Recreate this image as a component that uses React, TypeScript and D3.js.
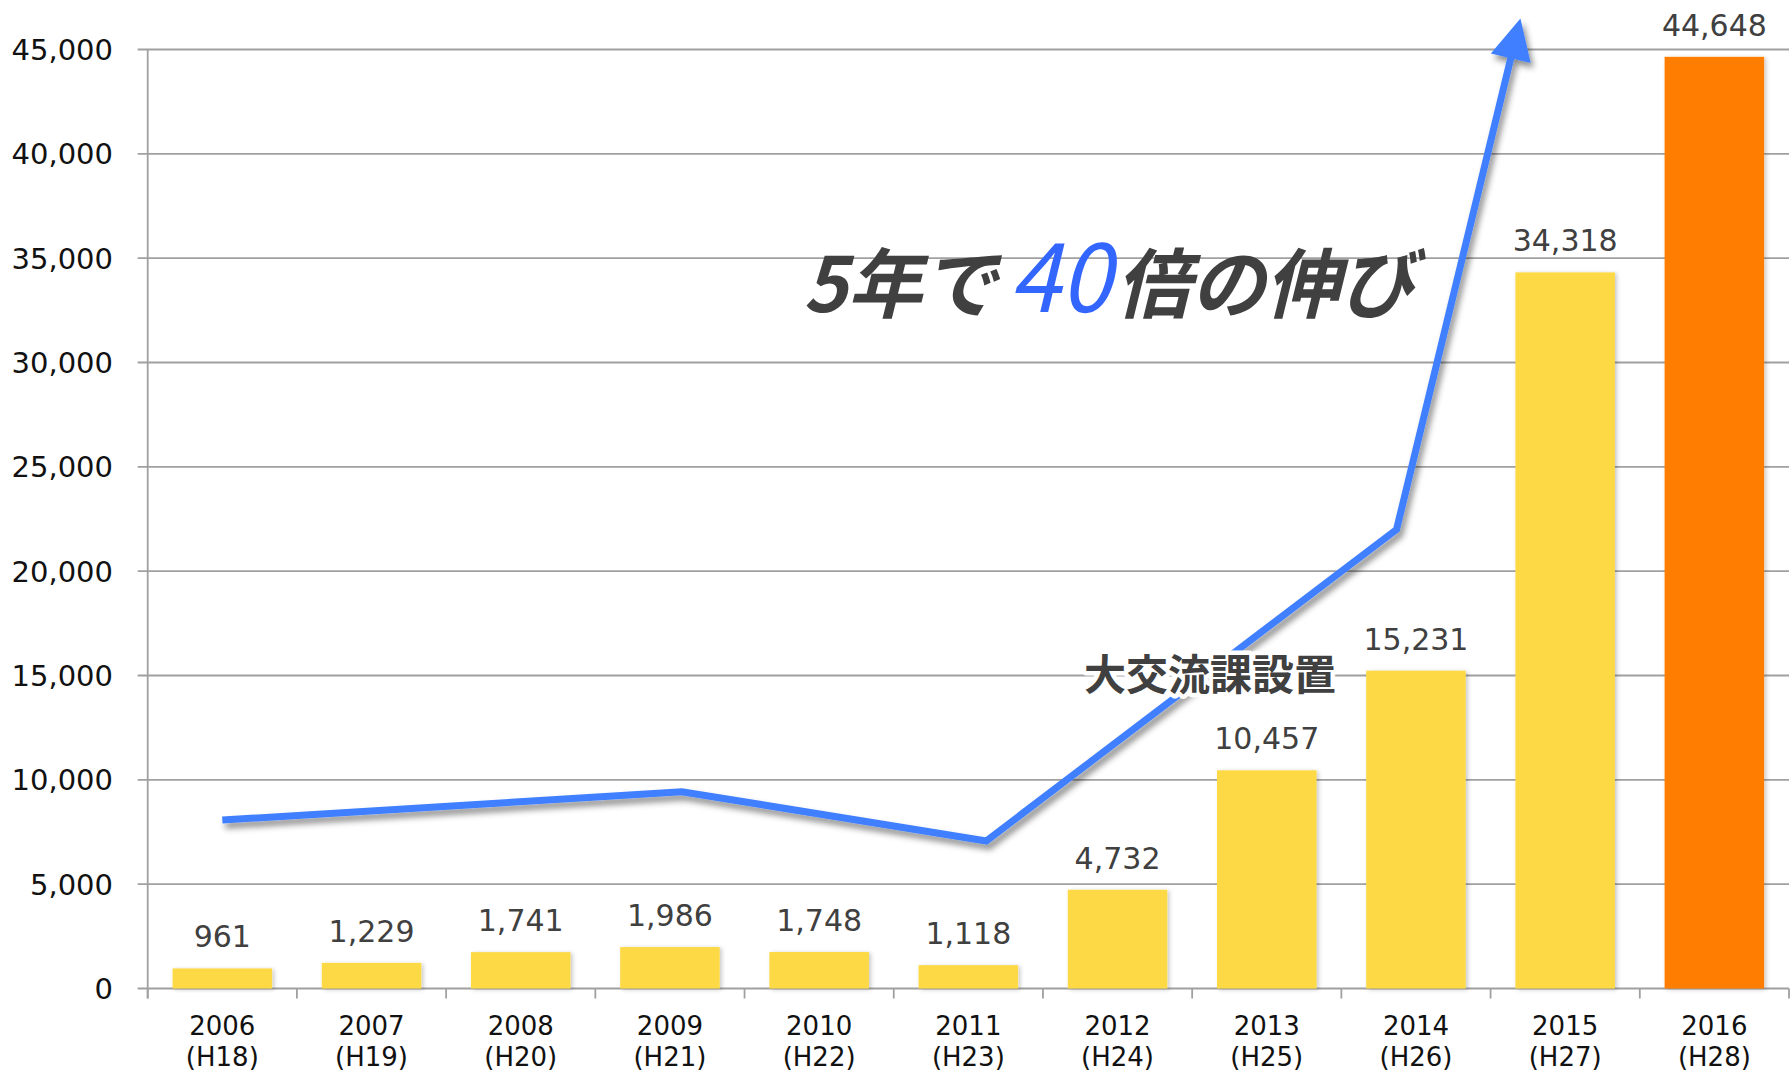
import React from 'react';
import * as d3 from 'd3';

// ---- data ----
const years = ['2006', '2007', '2008', '2009', '2010', '2011', '2012', '2013', '2014', '2015', '2016'];
const eras = ['(H18)', '(H19)', '(H20)', '(H21)', '(H22)', '(H23)', '(H24)', '(H25)', '(H26)', '(H27)', '(H28)'];
const visitors = [961, 1229, 1741, 1986, 1748, 1118, 4732, 10457, 15231, 34318, 44648];
const yTicks = [0, 5000, 10000, 15000, 20000, 25000, 30000, 35000, 40000, 45000];
// trend arrow vertices: position in category units (0 = first category centre) and value
const trendPos = [0, 3.08, 5.12, 7.87, 8.7];
const trendVal = [8070, 9430, 7070, 22000, 46490];

const W = 1791;
const H = 1073;
const left = 147.7;
const right = 1789;
const top = 49.5;
const bottom = 988.5;

const FONT = "'DejaVu Sans', Verdana, sans-serif";
const CJK = "'Noto Sans CJK JP', 'Noto Sans CJK SC', sans-serif";

export default function App() {
  const x = d3.scaleBand<string>().domain(years).range([left, right]).paddingInner(0.333).paddingOuter(0.1667);
  const y = d3.scaleLinear().domain([0, 45000]).range([bottom, top]);
  const pos = d3.scaleLinear().domain([-0.5, years.length - 0.5]).range([left, right]);
  const fmt = d3.format(',');

  const pts: [number, number][] = trendPos.map((p, i) => [pos(p), y(trendVal[i])]);
  // arrow head
  const tip = pts[pts.length - 1];
  const prev = pts[pts.length - 2];
  const dx = tip[0] - prev[0];
  const dy = tip[1] - prev[1];
  const len = Math.hypot(dx, dy);
  const ux = dx / len;
  const uy = dy / len;
  const headLen = 41;
  const headHalf = 20.5;
  const base: [number, number] = [tip[0] - ux * headLen, tip[1] - uy * headLen];
  const linePts = [...pts.slice(0, -1), [base[0] + ux * 2, base[1] + uy * 2] as [number, number]];
  const headPath = `M${tip[0]},${tip[1]} L${base[0] - uy * headHalf},${base[1] + ux * headHalf} L${base[0] + uy * headHalf},${base[1] - ux * headHalf} Z`;
  const line = d3.line();

  const boundaries = d3.range(years.length + 1).map((i) => left + (i * (right - left)) / years.length);

  return (
    <svg width={W} height={H} style={{ position: 'absolute', left: 0, top: 0, display: 'block', background: '#fff' }}>
      <defs>
        <filter id="lineShadow" x="-20%" y="-20%" width="140%" height="140%">
          <feDropShadow dx="3" dy="5" stdDeviation="3" floodColor="#000" floodOpacity="0.45" />
        </filter>
        <filter id="barShadow" x="-10%" y="-10%" width="130%" height="130%">
          <feDropShadow dx="2" dy="1" stdDeviation="2" floodColor="#000" floodOpacity="0.22" />
        </filter>
      </defs>
      <rect x={0} y={0} width={W} height={H} fill="#fff" />

      {/* gridlines */}
      {yTicks.map((t) => (
        <line key={t} x1={left - 10} x2={right} y1={y(t)} y2={y(t)} stroke="#a0a0a0" strokeWidth={1.8} />
      ))}
      {/* y axis */}
      <line x1={left} x2={left} y1={top} y2={bottom + 10} stroke="#a0a0a0" strokeWidth={1.8} />
      {/* x ticks */}
      {boundaries.map((b, i) => (
        <line key={i} x1={b} x2={b} y1={bottom} y2={bottom + 10} stroke="#a0a0a0" strokeWidth={1.8} />
      ))}
      {/* y tick labels */}
      {yTicks.map((t) => (
        <text key={t} x={113} y={y(t)} dy="0.36em" textAnchor="end" fontFamily={FONT} fontSize={29} fill="#111">
          {fmt(t)}
        </text>
      ))}

      {/* bars */}
      {visitors.map((v, i) => (
        <rect
          key={years[i]}
          x={x(years[i])}
          y={y(v)}
          width={x.bandwidth()}
          height={bottom - y(v)}
          fill={i === visitors.length - 1 ? '#FF7D00' : '#FDDA45'}
          filter="url(#barShadow)"
        />
      ))}
      {/* value labels */}
      {visitors.map((v, i) => (
        <text
          key={years[i]}
          x={(x(years[i]) as number) + x.bandwidth() / 2}
          y={y(v) - 21}
          textAnchor="middle"
          fontFamily={FONT}
          fontSize={30}
          fill="#404040"
        >
          {fmt(v)}
        </text>
      ))}
      {/* category labels */}
      {years.map((yr, i) => (
        <g key={yr}>
          <text x={(x(yr) as number) + x.bandwidth() / 2} y={1035} textAnchor="middle" fontFamily={FONT} fontSize={26} fill="#111">
            {yr}
          </text>
          <text x={(x(yr) as number) + x.bandwidth() / 2} y={1066} textAnchor="middle" fontFamily={FONT} fontSize={26} fill="#111">
            {eras[i]}
          </text>
        </g>
      ))}

      {/* trend arrow */}
      <g filter="url(#lineShadow)">
        <path d={line(linePts) as string} fill="none" stroke="#3F7FFF" strokeWidth={7} strokeLinejoin="miter" />
        <path d={headPath} fill="#3F7FFF" />
      </g>

      {/* annotations */}
      <text
        x={1210}
        y={690}
        textAnchor="middle"
        fontFamily={CJK}
        fontWeight={700}
        fontSize={42}
        fill="#404040"
        stroke="#fff"
        strokeWidth={9}
        strokeLinejoin="round"
        style={{ paintOrder: 'stroke' }}
      >
        大交流課設置
      </text>

      <g fontFamily={CJK} fontStyle="italic" fontWeight={700}>
        <text x={803} y={312} fontSize={76} fill="#404040" textLength={194} lengthAdjust="spacingAndGlyphs">
          5年で
        </text>
        <text x={1009} y={312} fontSize={96} fontWeight={400} fill="#3366FF" textLength={102} lengthAdjust="spacingAndGlyphs">
          40
        </text>
        <text x={1116} y={312} fontSize={76} fill="#404040" textLength={298} lengthAdjust="spacingAndGlyphs">
          倍の伸び
        </text>
      </g>
    </svg>
  );
}
